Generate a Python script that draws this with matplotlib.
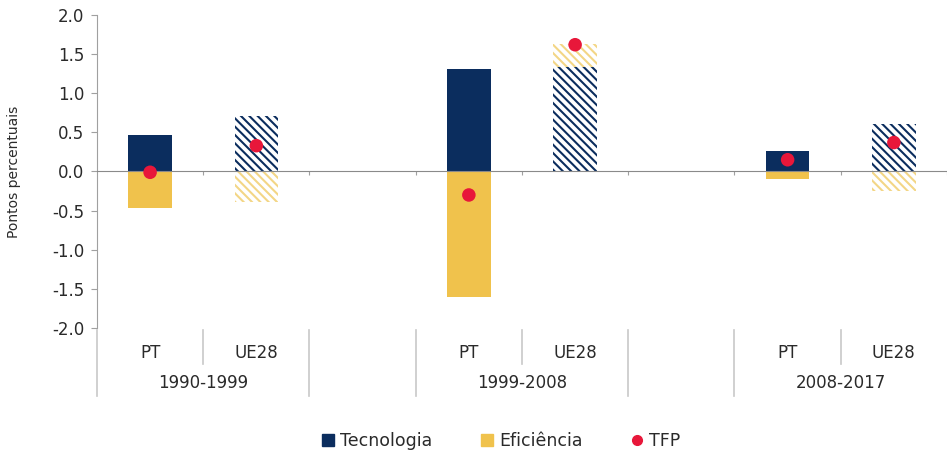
import numpy as np
import matplotlib.pyplot as plt
from matplotlib.patches import Patch
from matplotlib.lines import Line2D
from matplotlib.transforms import blended_transform_factory

plt.rcParams['font.family'] = ['DejaVu Sans']
plt.rcParams['hatch.linewidth'] = 1.5

# contributions to TFP growth, percentage points
periods = ["1990-1999", "1999-2008", "2008-2017"]
regions = ["PT", "UE28"]
tecnologia = [0.46, 0.71, 1.31, 1.33, 0.26, 0.61]
eficiencia = [-0.47, -0.39, -1.60, 0.30, -0.10, -0.25]
tfp = [-0.01, 0.33, -0.30, 1.62, 0.15, 0.37]

navy = "#0b2d5e"
yellow = "#f0c24c"
yellow_light = "#f3d686"
red = "#e8173a"
grid_gray = "#c8c8c8"
text_col = "#2a2a2a"

# slot positions: PT, UE28, gap, PT, UE28, gap, PT, UE28
slots = [0, 1, 3, 4, 6, 7]

fig = plt.figure(figsize=(9.47, 4.5), dpi=100)
ax = fig.add_axes([0.1024, 0.2711, 0.8976, 0.6956])

width = 0.41
for i, x in enumerate(slots):
    hatched = regions[i % 2] == "UE28"
    t = tecnologia[i]
    e = eficiencia[i]
    e_base = t if (e > 0 and t > 0) else 0
    if hatched:
        ax.bar(x, t, width, color="white", edgecolor=navy, hatch="\\\\\\\\", linewidth=0, zorder=2)
        ax.bar(x, e, width, bottom=e_base, color="white", edgecolor=yellow_light,
               hatch="\\\\\\\\", linewidth=0, zorder=2)
    else:
        ax.bar(x, t, width, color=navy, linewidth=0, zorder=2)
        ax.bar(x, e, width, bottom=e_base, color=yellow, linewidth=0, zorder=2)

ax.scatter(slots, tfp, s=95, color=red, zorder=4, edgecolors="none")

ax.set_ylim(-2, 2)
ax.set_xlim(-0.5, -0.5 + 850 / 107.5)
ax.set_yticks(np.arange(-2, 2.01, 0.5))
ax.set_yticklabels([f"{v:.1f}" for v in np.arange(-2, 2.01, 0.5)], fontsize=12, color=text_col)
ax.set_ylabel("Pontos percentuais", fontsize=10, color=text_col)
ax.yaxis.set_label_coords(-0.0894, 0.5)

for side in ["top", "right"]:
    ax.spines[side].set_visible(False)
ax.spines["left"].set_color("#a0a0a0")
ax.spines["bottom"].set_position(("data", 0))
ax.spines["bottom"].set_color("#8a8a8a")
ax.tick_params(axis="y", length=4, color="#a0a0a0", pad=5)
ax.set_xticks([0.5, 1.5, 2.5, 3.5, 4.5, 5.5, 6.5, 7.5])
ax.set_xticklabels([])
ax.tick_params(axis="x", length=3, color="#a0a0a0")

# category labels below the plot area
tr = blended_transform_factory(ax.transData, fig.transFigure)
for i, x in enumerate(slots):
    ax.text(x, 1 - 353 / 450, regions[i % 2], transform=tr, ha="center", va="center",
            fontsize=12, color=text_col)
for k, p in enumerate(periods):
    ax.text(slots[2 * k] + 0.5, 1 - 383 / 450, p, transform=tr, ha="center", va="center",
            fontsize=12, color=text_col)

# separators between categories and periods
y_top = 1 - 330 / 450
for x in [0.5, 3.5, 6.5]:
    ax.add_line(Line2D([x, x], [y_top, 1 - 364 / 450], transform=tr, color=grid_gray,
                       lw=1.2, clip_on=False))
for x in [-0.5, 1.5, 2.5, 4.5, 5.5]:
    ax.add_line(Line2D([x, x], [y_top, 1 - 396 / 450], transform=tr, color=grid_gray,
                       lw=1.2, clip_on=False))

handles = [
    Patch(color=navy, label="Tecnologia"),
    Patch(color=yellow, label="Eficiência"),
    Line2D([], [], marker="o", color=red, linestyle="none", markersize=7, label="TFP"),
]
fig.legend(handles=handles, loc="center", bbox_to_anchor=(0.529, 0.02), ncol=3,
           frameon=False, fontsize=12.5, handlelength=0.7, handleheight=0.7,
           handletextpad=0.35, columnspacing=2.8, labelcolor=text_col)

fig.savefig("out.png", dpi=100)
